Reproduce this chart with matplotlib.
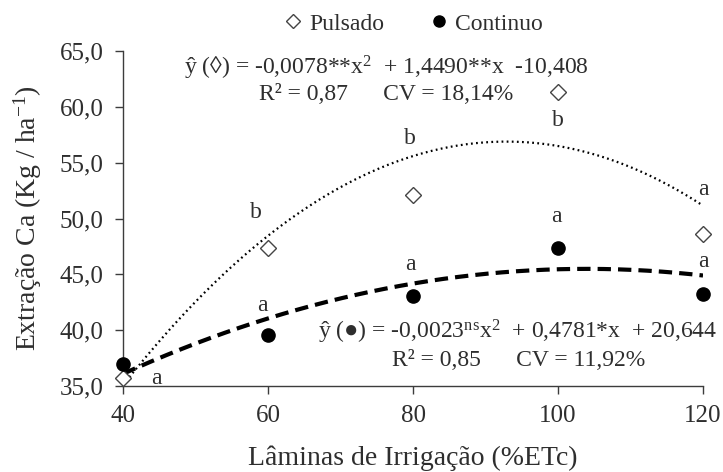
import numpy as np
import matplotlib
matplotlib.use("Agg")
import matplotlib.pyplot as plt
from matplotlib.lines import Line2D

plt.rcParams['font.family'] = ['Liberation Serif', 'DejaVu Serif']
plt.rcParams['mathtext.fontset'] = 'custom'
plt.rcParams['mathtext.rm'] = 'Liberation Serif'
plt.rcParams['mathtext.it'] = 'Liberation Serif:italic'

# dados
laminas = [40, 60, 80, 100, 120]
pulsado = [35.7, 47.4, 52.1, 61.3, 48.6]
continuo = [37.0, 39.6, 43.1, 47.4, 43.2]
letras_pulsado = ['a', 'b', 'b', 'b', 'a']
letras_continuo = ['', 'a', 'a', 'a', 'a']
coef_pulsado = [-0.0078, 1.4490, -10.408]
coef_continuo = [-0.0023, 0.4781, 20.644]

cor_texto = '#2e2e2e'
cor_eixo = '#3c3c3c'
fs = 17

fig = plt.figure(figsize=(7.23, 4.72), dpi=100)
ax = fig.add_axes([123/723, 1-386/472, 580/723, 335/472])

xx = np.linspace(40, 120, 200)
ax.plot(xx, np.polyval(coef_pulsado, xx), color='black', lw=1.6,
        linestyle=(0, (0.8, 1.5)))
ax.plot(xx, np.polyval(coef_continuo, xx), color='black', lw=3.0,
        linestyle=(0, (3.2, 1.7)))

ax.plot(laminas, pulsado, 'D', ms=8, mfc='white', mec='#444444', mew=1.0,
        zorder=3, clip_on=False)
ax.plot(laminas, continuo, 'o', ms=9.5, color='black', zorder=3, clip_on=False)

# letras de significancia (deslocamento em pontos)
off_p = [(24, 0), (-9, 25), (-2, 41), (0, -20), (0, 32)]
off_c = [(0, 0), (-4, 21), (-2, 22), (-1, 22), (0, 24)]
for x, y, t, o in zip(laminas, pulsado, letras_pulsado, off_p):
    ax.annotate(t, (x, y), xytext=o, textcoords='offset points',
                ha='center', va='center', fontsize=fs, color=cor_texto)
for x, y, t, o in zip(laminas, continuo, letras_continuo, off_c):
    if t:
        ax.annotate(t, (x, y), xytext=o, textcoords='offset points',
                    ha='center', va='center', fontsize=fs, color=cor_texto)

fig.text(386/723, 1-68/472,
         'ŷ (◊) = -0,0078**x$^{2}$  + 1,4490**x  -10,408',
         fontsize=fs, color=cor_texto, ha='center', va='center')
fig.text(386/723, 1-95/472, 'R² = 0,87      CV = 18,14%',
         fontsize=fs, color=cor_texto, ha='center', va='center')
fig.text(518/723, 1-332/472,
         'ŷ (●) = -0,0023$^{\\mathrm{ns}}$x$^{2}$  + 0,4781*x  + 20,644',
         fontsize=fs, color=cor_texto, ha='center', va='center')
fig.text(519/723, 1-360/472, 'R² = 0,85      CV = 11,92%',
         fontsize=fs, color=cor_texto, ha='center', va='center')

ax.set_xlim(40, 120)
ax.set_ylim(35, 65)
ax.set_xticks(laminas)
ax.set_yticks(np.arange(35, 66, 5))
ax.set_yticklabels([f'{v:.1f}'.replace('.', ',') for v in np.arange(35, 66, 5)])
for s in ['top', 'right']:
    ax.spines[s].set_visible(False)
for s in ['left', 'bottom']:
    ax.spines[s].set_color(cor_eixo)
    ax.spines[s].set_linewidth(1.0)
ax.tick_params(direction='out', length=6, width=1.0, color=cor_eixo,
               labelsize=18, labelcolor=cor_texto, pad=8)

ax.set_xlabel('Lâminas de Irrigação (%ETc)', fontsize=20, color=cor_texto,
              labelpad=13)
ax.set_ylabel('Extração Ca (Kg / ha$^{-1}$)', fontsize=20, color=cor_texto,
              labelpad=11)

handles = [
    Line2D([], [], marker='D', ls='none', ms=7, mfc='white', mec='#444444',
           mew=1.0, label='Pulsado'),
    Line2D([], [], marker='o', ls='none', ms=8, color='black', label='Continuo'),
]
fig.legend(handles=handles, loc='center', bbox_to_anchor=(413/723, 1-24/472),
           ncol=2, frameon=False, fontsize=17, handlelength=0.8,
           handletextpad=0.3, columnspacing=1.9, labelcolor=cor_texto)

fig.savefig('out.png', dpi=100)
